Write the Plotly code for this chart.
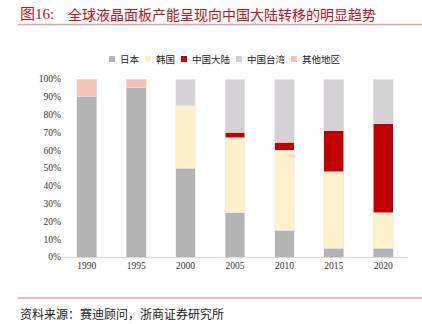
import plotly.graph_objects as go

years = ["1990", "1995", "2000", "2005", "2010", "2015", "2020"]
japan = [90, 95, 50, 25, 15, 5, 5]
korea = [0, 0, 35, 42, 45, 43, 20]
china = [0, 0, 0, 3, 4.5, 23, 50]
taiwan = [0, 0, 15, 30, 35.5, 29, 25]
others = [10, 5, 0, 0, 0, 0, 0]
yticks = [0, 10, 20, 30, 40, 50, 60, 70, 80, 90, 100]

series = [
    ("日本", japan, "#B3B3B3"),
    ("韩国", korea, "#FFF0CC"),
    ("中国大陆", china, "#C00000"),
    ("中国台湾", taiwan, "#D3D1D3"),
    ("其他地区", others, "#F5C2B6"),
]

W, H = 422, 324
L, R, T, B = 62, 14, 79, 67

fig = go.Figure()
for name, vals, col in series:
    fig.add_trace(go.Bar(
        x=years, y=vals, name=name,
        marker=dict(color=col, line=dict(color="#E6E6E6", width=0.6)),
    ))

font_num = "Liberation Serif, Noto Sans CJK SC, serif"
fig.update_layout(
    width=W, height=H, barmode="stack", bargap=0.6,
    margin=dict(l=L, r=R, t=T, b=B),
    paper_bgcolor="white", plot_bgcolor="white",
    font=dict(family=font_num, size=9, color="#333333"),
    showlegend=False,
    xaxis=dict(showline=True, linecolor="#D9D9D9", linewidth=1, ticks="",
               tickfont=dict(size=9.5, family=font_num)),
    yaxis=dict(range=[0, 100], tickmode="array", tickvals=yticks,
               ticktext=[f"{v}%" for v in yticks],
               showgrid=False, zeroline=False, showline=False,
               tickfont=dict(size=9.5, family=font_num)),
)

def px_x(p):
    return (p - L) / (W - L - R)

def px_y(p):
    return (H - B - p) / (H - T - B)

# custom legend
leg_x = [112, 148, 184, 239, 294]
leg_y = 59
for (name, _, col), lx in zip(series, leg_x):
    fig.add_shape(type="rect", xref="paper", yref="paper",
                  x0=px_x(lx - 3), x1=px_x(lx + 3), y0=px_y(leg_y + 3), y1=px_y(leg_y - 3),
                  fillcolor=col, line=dict(width=0))
    fig.add_annotation(xref="paper", yref="paper", x=px_x(lx + 6), y=px_y(leg_y),
                       xanchor="left", yanchor="middle", showarrow=False,
                       text=name, font=dict(size=9.5, color="#222222", family="Noto Sans CJK SC"))

title_col = "#B8141A"
fig.add_annotation(xref="paper", yref="paper", x=px_x(18), y=px_y(14),
                   xanchor="left", yanchor="middle", showarrow=False,
                   text="图16:", font=dict(size=15, color=title_col,
                                           family="Liberation Serif, Noto Sans CJK SC"))
fig.add_annotation(xref="paper", yref="paper", x=px_x(66), y=px_y(14),
                   xanchor="left", yanchor="middle", showarrow=False,
                   text="全球液晶面板产能呈现向中国大陆转移的明显趋势",
                   font=dict(size=14, color=title_col, family="Noto Sans CJK SC"))
fig.add_shape(type="line", xref="paper", yref="paper", x0=px_x(18), x1=px_x(422),
              y0=px_y(24.5), y1=px_y(24.5), line=dict(color="#E8A09A", width=1.5))
fig.add_shape(type="line", xref="paper", yref="paper", x0=px_x(18), x1=px_x(422),
              y0=px_y(298), y1=px_y(298), line=dict(color="#E8A09A", width=1.5))
fig.add_annotation(xref="paper", yref="paper", x=px_x(18), y=px_y(313),
                   xanchor="left", yanchor="middle", showarrow=False,
                   text="资料来源：赛迪顾问，浙商证券研究所",
                   font=dict(size=12, color="#222222", family="Noto Sans CJK SC"))

fig.write_html("out.html")
